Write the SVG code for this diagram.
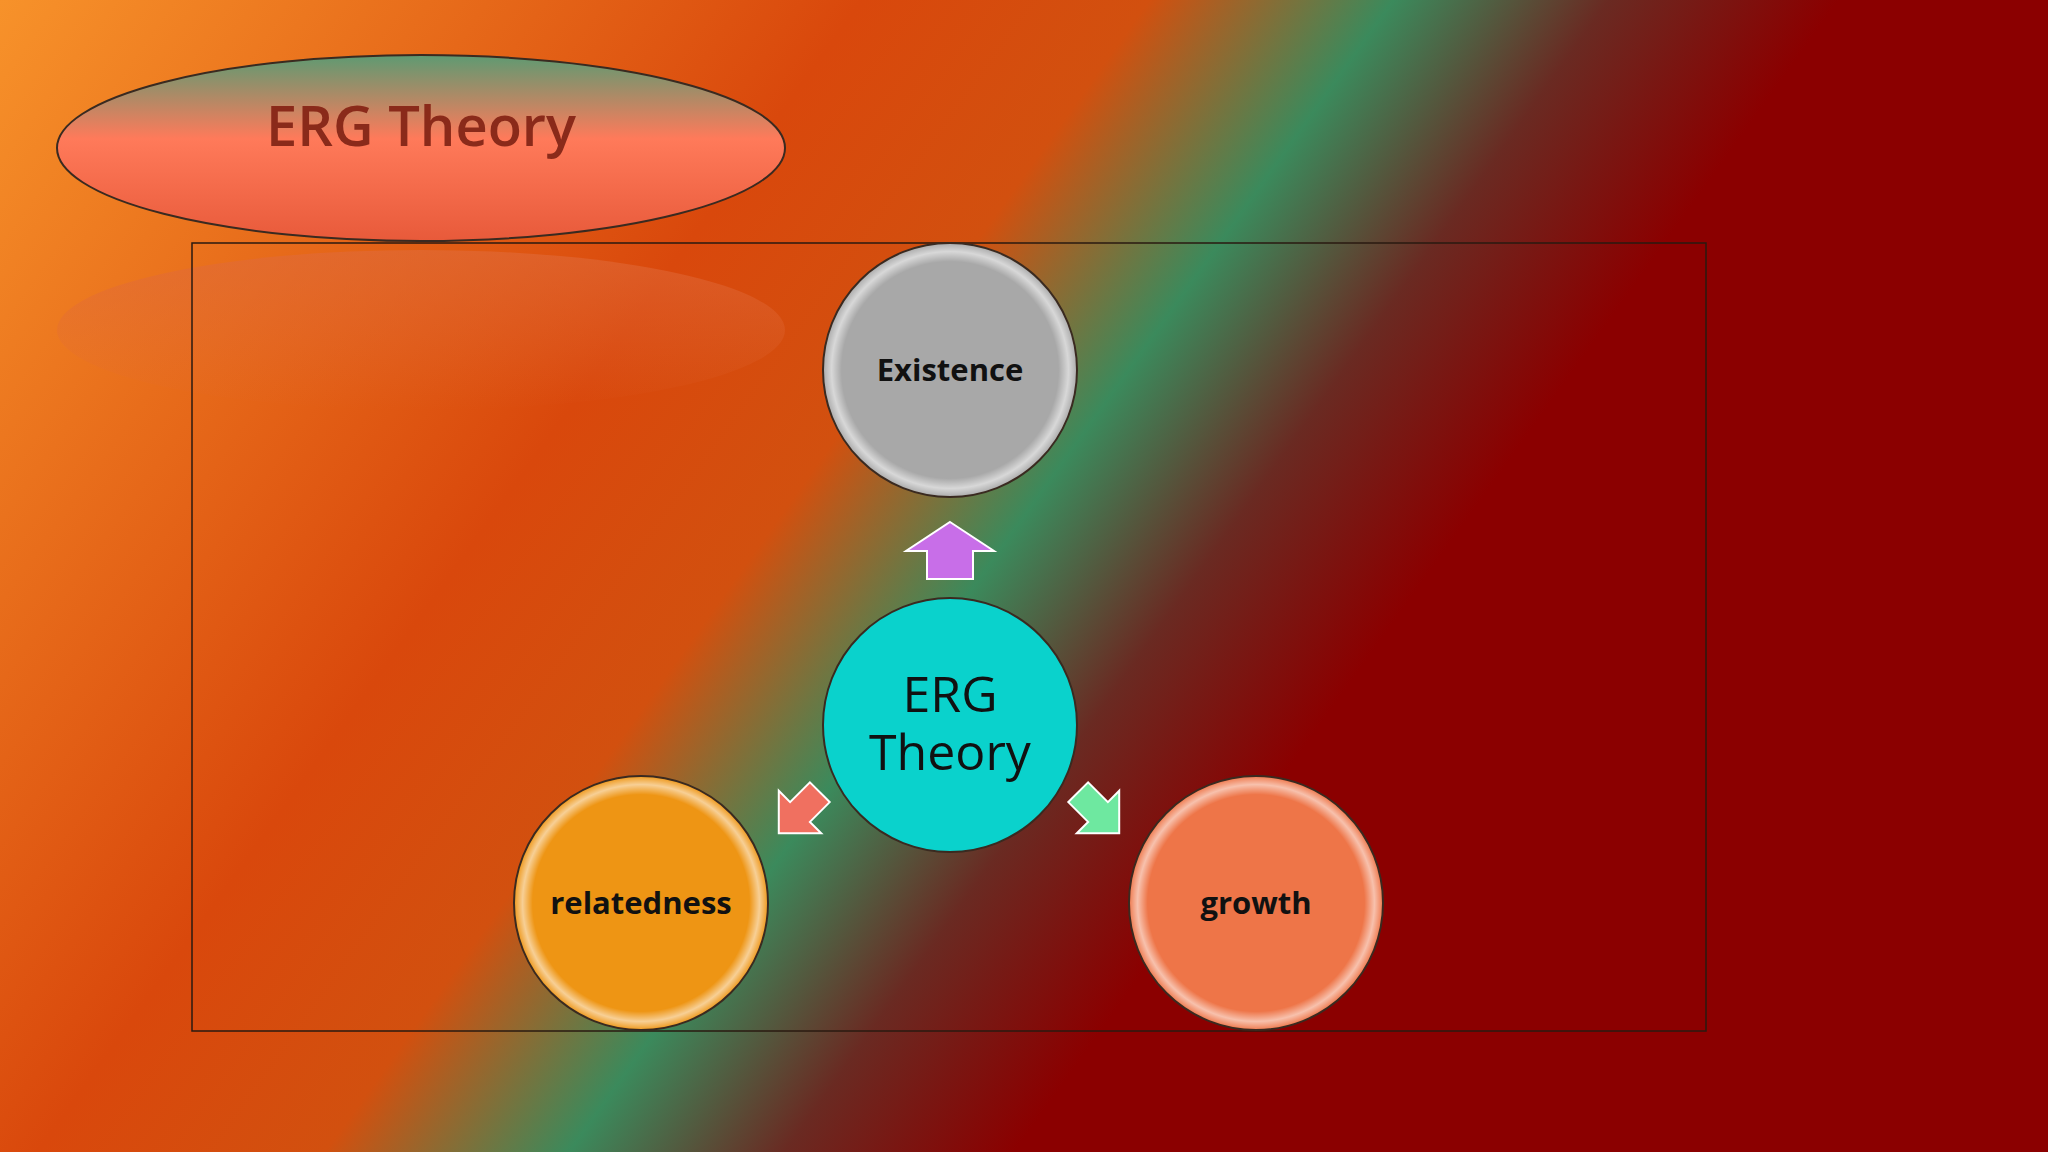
<svg xmlns="http://www.w3.org/2000/svg" width="2048" height="1152" viewBox="0 0 2048 1152">
<defs>
<linearGradient id="bg" gradientUnits="userSpaceOnUse" x1="0" y1="0" x2="1900" y2="1360">
<stop offset="0" stop-color="#f7922a"/>
<stop offset="0.3" stop-color="#d9480c"/>
<stop offset="0.4" stop-color="#d2500f"/>
<stop offset="0.485" stop-color="#3b8a5c"/>
<stop offset="0.56" stop-color="#6a2a22"/>
<stop offset="0.64" stop-color="#8b0000"/>
<stop offset="1" stop-color="#8b0000"/>
</linearGradient>
<linearGradient id="title" x1="0" y1="0" x2="0" y2="1">
<stop offset="0" stop-color="#5e9a72"/>
<stop offset="0.45" stop-color="#ff7a5a"/>
<stop offset="1" stop-color="#e85a3a"/>
</linearGradient>
<linearGradient id="refl" x1="0" y1="0" x2="0" y2="1">
<stop offset="0" stop-color="#e06a3a" stop-opacity="0.6"/>
<stop offset="1" stop-color="#e06a3a" stop-opacity="0"/>
</linearGradient>
<radialGradient id="rim" cx="0.5" cy="0.5" r="0.5">
<stop offset="0.86" stop-color="#fff" stop-opacity="0"/>
<stop offset="0.94" stop-color="#fff" stop-opacity="0.55"/>
<stop offset="1" stop-color="#fff" stop-opacity="0.1"/>
</radialGradient>
<style>
.c{stroke:#3a2a20;stroke-width:2}
.t{font-family:"Open Sans","DejaVu Sans",sans-serif;font-weight:bold;font-size:31px;fill:#111;text-anchor:middle}
.a{stroke:#fff;stroke-width:2}
</style>
</defs>
<rect width="2048" height="1152" fill="url(#bg)"/>
<ellipse cx="421" cy="330" rx="364" ry="80" fill="url(#refl)"/>
<g id="title-node">
<ellipse cx="421" cy="148" rx="364" ry="93" fill="url(#title)" stroke="#3a2a20" stroke-width="2"/>
<text x="421" y="146" font-family="'Open Sans','DejaVu Sans',sans-serif" font-weight="600" font-size="56" fill="#8a2a1a" text-anchor="middle">ERG Theory</text>
</g>
<rect x="192" y="243" width="1514" height="788" fill="none" stroke="#2a1a10" stroke-width="1.5"/>
<g id="connectors">
<path class="a" d="M950,522 L994,551 L973,551 L973,579 L927,579 L927,551 L906,551 Z" fill="#c86ee8"/>
<path class="a" d="M0,-30 L30,0 L14,0 L14,28 L-14,28 L-14,0 L-30,0 Z" transform="translate(800,812) rotate(-135)" fill="#f07060"/>
<path class="a" d="M0,-30 L30,0 L14,0 L14,28 L-14,28 L-14,0 L-30,0 Z" transform="translate(1098,812) rotate(135)" fill="#6ee8a0"/>
</g>
<g id="existence">
<circle class="c" cx="950" cy="370" r="127" fill="#a8a8a8"/>
<circle cx="950" cy="370" r="126" fill="url(#rim)"/>
<text class="t" x="950" y="381">Existence</text>
</g>
<g id="erg">
<circle class="c" cx="950" cy="725" r="127" fill="#0ad2cc" stroke-width="3"/>
<text x="950" y="712" font-family="'Open Sans','DejaVu Sans',sans-serif" font-size="50" fill="#111" text-anchor="middle">ERG</text>
<text x="950" y="770" font-family="'Open Sans','DejaVu Sans',sans-serif" font-size="50" fill="#111" text-anchor="middle">Theory</text>
</g>
<g id="relatedness">
<circle class="c" cx="641" cy="903" r="127" fill="#ee9514"/>
<circle cx="641" cy="903" r="126" fill="url(#rim)"/>
<text class="t" x="641" y="914">relatedness</text>
</g>
<g id="growth">
<circle class="c" cx="1256" cy="903" r="127" fill="#ee7548"/>
<circle cx="1256" cy="903" r="126" fill="url(#rim)"/>
<text class="t" x="1256" y="914">growth</text>
</g>
</svg>
